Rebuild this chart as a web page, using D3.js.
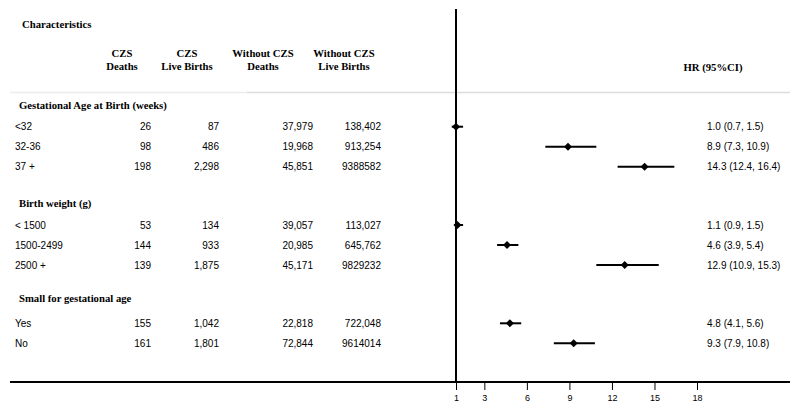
<!DOCTYPE html>
<html>
<head>
<meta charset="utf-8">
<script src="https://cdn.jsdelivr.net/npm/d3@7"></script>
<style>
  html, body { margin: 0; padding: 0; background: #fff; }
  svg { display: block; }
  .serif { font-family: "Liberation Serif", "Times New Roman", Tinos, "DejaVu Serif", serif; font-weight: bold; }
  .sans { font-family: "Liberation Sans", Arial, Arimo, sans-serif; }
</style>
</head>
<body>
<svg id="chart" width="800" height="412"></svg>
<script>
// ---- Data ----
const groups = ["Gestational Age at Birth (weeks)", "Birth weight (g)", "Small for gestational age"];
const rowGroup = [0, 0, 0, 1, 1, 1, 2, 2];
const rowLabels = ["<32", "32-36", "37 +", "< 1500", "1500-2499", "2500 +", "Yes", "No"];
const czsDeaths = ["26", "98", "198", "53", "144", "139", "155", "161"];
const czsBirths = ["87", "486", "2,298", "134", "933", "1,875", "1,042", "1,801"];
const noCzsDeaths = ["37,979", "19,968", "45,851", "39,057", "20,985", "45,171", "22,818", "72,844"];
const noCzsBirths = ["138,402", "913,254", "9388582", "113,027", "645,762", "9829232", "722,048", "9614014"];
const hr = [1.0, 8.9, 14.3, 1.1, 4.6, 12.9, 4.8, 9.3];
const hrLow = [0.7, 7.3, 12.4, 0.9, 3.9, 10.9, 4.1, 7.9];
const hrHigh = [1.5, 10.9, 16.4, 1.5, 5.4, 15.3, 5.6, 10.8];
const hrLabels = ["1.0 (0.7, 1.5)", "8.9 (7.3, 10.9)", "14.3 (12.4, 16.4)", "1.1 (0.9, 1.5)", "4.6 (3.9, 5.4)", "12.9 (10.9, 15.3)", "4.8 (4.1, 5.6)", "9.3 (7.9, 10.8)"];
const xTicks = [1, 3, 6, 9, 12, 15, 18];
const colHeaders = [["CZS", "Deaths"], ["CZS", "Live Births"], ["Without CZS", "Deaths"], ["Without CZS", "Live Births"]];

// ---- Layout ----
const svg = d3.select("#chart");

const x = d3.scaleLinear().domain([1, 18]).range([456, 697]);
const rowY = [126.7, 146.7, 166.7, 225, 245, 265, 323.3, 343.3];
const groupY = [105, 203, 298];
const hfs = 10.7;

// gray header separator
svg.append("line").attr("x1", 10).attr("x2", 247).attr("y1", 92.5).attr("y2", 92.5)
  .attr("stroke", "#ececec").attr("stroke-width", 1.5);
svg.append("line").attr("x1", 247).attr("x2", 790).attr("y1", 92.5).attr("y2", 92.5)
  .attr("stroke", "#dcdcdc").attr("stroke-width", 1.5);

svg.append("text").attr("class", "serif").attr("x", 22).attr("y", 28).text("Characteristics")
  .attr("font-size", hfs);

const colCenters = [122, 187, 263, 344];
colHeaders.forEach((h, i) => {
  h.forEach((t, j) => {
    svg.append("text").attr("class", "serif").attr("x", colCenters[i]).attr("y", 57 + j * 13)
      .attr("text-anchor", "middle").text(t).attr("font-size", hfs);
  });
});
svg.append("text").attr("class", "serif").attr("x", 713).attr("y", 71).attr("text-anchor", "middle")
  .text("HR (95%CI)").attr("font-size", hfs);

groups.forEach((g, i) => {
  svg.append("text").attr("class", "serif").attr("x", 19).attr("y", groupY[i] + 4).text(g)
    .attr("font-size", hfs);
});

const colRight = [151, 219, 313, 381];
const cols = [czsDeaths, czsBirths, noCzsDeaths, noCzsBirths];
rowLabels.forEach((lab, i) => {
  const y = rowY[i] + 3.5;
  svg.append("text").attr("class", "sans").attr("x", 15).attr("y", y).text(lab).attr("font-size", 10);
  cols.forEach((c, k) => {
    svg.append("text").attr("class", "sans").attr("x", colRight[k]).attr("y", y)
      .attr("text-anchor", "end").text(c[i]).attr("font-size", 10);
  });
  svg.append("text").attr("class", "sans").attr("x", 707).attr("y", y).text(hrLabels[i]).attr("font-size", 10);
});

// Reference vertical line at HR=1
svg.append("line").attr("x1", x(1)).attr("x2", x(1)).attr("y1", 9).attr("y2", 382)
  .attr("stroke", "#000").attr("stroke-width", 2);

// Axis
const axisG = svg.append("g").attr("transform", "translate(0,382)");
axisG.append("line").attr("x1", 10).attr("x2", 790).attr("y1", 0).attr("y2", 0)
  .attr("stroke", "#000").attr("stroke-width", 2);
const ax = d3.axisBottom(x).tickValues(xTicks).tickSize(8).tickPadding(5).tickSizeOuter(0).tickFormat(d3.format("d"));
axisG.call(ax);
axisG.select(".domain").remove();
axisG.selectAll(".tick line").attr("stroke", "#000").attr("stroke-width", 1);
axisG.selectAll(".tick text").attr("class", "sans").attr("font-size", 9).attr("fill", "#000");
axisG.attr("font-family", null);

// CI lines and diamonds
const g = svg.append("g");
hr.forEach((v, i) => {
  g.append("line").attr("x1", x(hrLow[i])).attr("x2", x(hrHigh[i]))
    .attr("y1", rowY[i]).attr("y2", rowY[i]).attr("stroke", "#000").attr("stroke-width", 2);
  const cx = x(v), cy = rowY[i], r = 4;
  g.append("path").attr("d", `M${cx},${cy - r}L${cx + r},${cy}L${cx},${cy + r}L${cx - r},${cy}Z`).attr("fill", "#000");
});
</script>
</body>
</html>
